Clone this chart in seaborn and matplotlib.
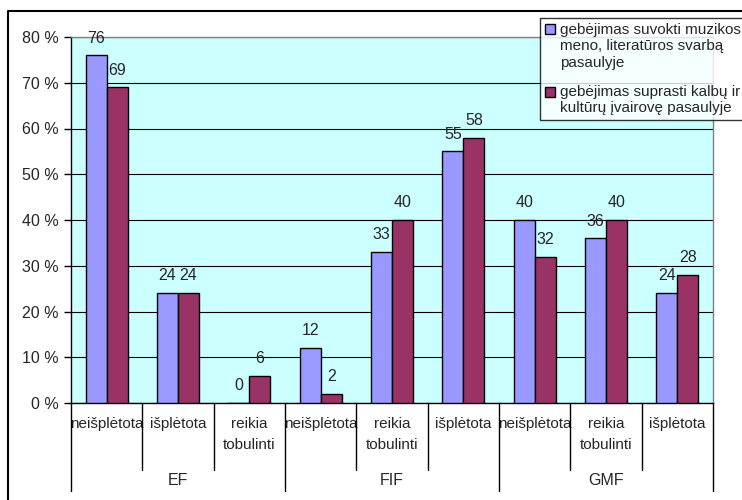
import matplotlib
matplotlib.use("Agg")
import matplotlib.pyplot as plt
import seaborn as sns
import pandas as pd
from matplotlib.lines import Line2D
from matplotlib.patches import Patch, Rectangle
from matplotlib.legend_handler import HandlerPatch

# data
groups = ["EF", "FIF", "GMF"]
categories = [
    ["neišplėtota", "išplėtota", "reikia\ntobulinti"],
    ["neišplėtota", "reikia\ntobulinti", "išplėtota"],
    ["neišplėtota", "reikia\ntobulinti", "išplėtota"],
]
series_names = [
    "gebėjimas suvokti muzikos\nmeno, literatūros svarbą\npasaulyje",
    "gebėjimas suprasti kalbų ir\nkultūrų įvairovę pasaulyje",
]
series_a = [76, 24, 0, 12, 33, 55, 40, 36, 24]
series_b = [69, 24, 6, 2, 40, 58, 32, 40, 28]
colors = ["#9999FF", "#993366"]

# build long table
rows = []
keys = []
labels = []
i = 0
for g, cats in zip(groups, categories):
    for c in cats:
        key = f"{g}|{c}"
        keys.append(key)
        labels.append(c)
        rows.append({"key": key, "series": series_names[0], "value": series_a[i]})
        rows.append({"key": key, "series": series_names[1], "value": series_b[i]})
        i += 1
df = pd.DataFrame(rows)

sns.set_style("white")
plt.rcParams["font.family"] = ["Liberation Sans", "DejaVu Sans"]
plt.rcParams["font.size"] = 11

fig = plt.figure(figsize=(7.42, 5.0), dpi=100)
ax = fig.add_axes([71 / 742, 1 - 403 / 500, 642 / 742, 366 / 500])
ax.set_facecolor("#CCFFFF")

sns.barplot(data=df, x="key", y="value", hue="series", order=keys,
            hue_order=series_names, palette=colors, saturation=1,
            edgecolor="black", linewidth=1, width=0.59, gap=0, ax=ax,
            zorder=3, legend=False)

for cont in ax.containers:
    ax.bar_label(cont, fmt="%d", padding=7, fontsize=11.5)

ax.set_ylim(0, 80)
ax.set_xlim(-0.5, 8.5)
ax.set_yticks(range(0, 81, 10))
ax.set_yticklabels([f"{v} %" for v in range(0, 81, 10)], fontsize=11.5)
ax.yaxis.grid(True, color="black", linewidth=0.8, zorder=0)
ax.set_axisbelow(True)
ax.tick_params(axis="y", direction="out", length=5, width=1, color="black", left=True, pad=4)
ax.set_xticks(range(9))
ax.set_xticklabels(labels, linespacing=1.65)
ax.tick_params(axis="x", length=0, pad=10)
ax.set_xlabel("")
ax.set_ylabel("")

for s in ["top", "right"]:
    ax.spines[s].set_color("#808080")
    ax.spines[s].set_linewidth(1)
for s in ["left", "bottom"]:
    ax.spines[s].set_color("black")
    ax.spines[s].set_linewidth(1)

# category separators below the axis
tr = ax.get_xaxis_transform()
for b in range(10):
    x = b - 0.5
    low = -0.24 if b % 3 == 0 else -0.183
    ax.plot([x, x], [0, low], color="black", linewidth=1, transform=tr, clip_on=False)
for gi, g in enumerate(groups):
    ax.text(gi * 3 + 1, -0.212, g, transform=tr, ha="center", va="center", fontsize=11.5)


# legend square next to the first line of each entry
class TopHandler(HandlerPatch):
    def __init__(self, shift):
        super().__init__()
        self.shift = shift

    def create_artists(self, legend, orig_handle, xdescent, ydescent,
                       width, height, fontsize, trans):
        p = Rectangle((-xdescent, -ydescent + self.shift), width, height)
        self.update_prop(p, orig_handle, legend)
        p.set_transform(trans)
        return [p]


handles = [Patch(facecolor=c, edgecolor="black", linewidth=1) for c in colors]
line_pt = 12.2
leg = ax.legend(handles, series_names, loc="upper left",
                bbox_to_anchor=(540 / 742, 1 - 18 / 500),
                bbox_transform=fig.transFigure, frameon=True, fancybox=False,
                fontsize=11, handlelength=0.65, handleheight=0.65, handletextpad=0.35,
                borderpad=0.3, labelspacing=1.0, borderaxespad=0,
                handler_map={handles[0]: TopHandler(line_pt),
                             handles[1]: TopHandler(line_pt / 2)})
leg.get_frame().set_edgecolor("black")
leg.get_frame().set_linewidth(1)
leg.get_frame().set_facecolor("white")
for t in leg.get_texts():
    t.set_linespacing(1.23)

# outer chart border
fig.add_artist(Line2D([8 / 742, 8 / 742, 1.0], [0, 1 - 11 / 500, 1 - 11 / 500],
                      color="black", linewidth=1.5, transform=fig.transFigure))

fig.savefig("out.png", dpi=100)
